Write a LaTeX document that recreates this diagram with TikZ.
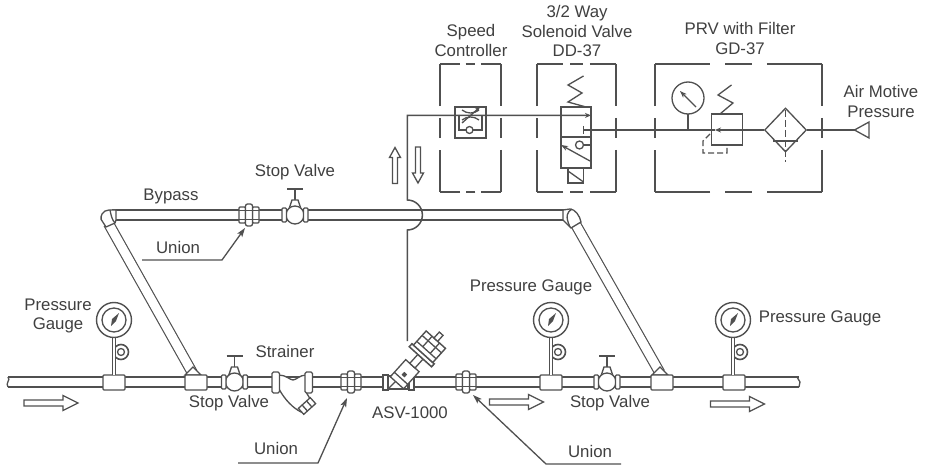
\documentclass[tikz,border=0pt]{standalone}
\usepackage{fontspec}
\setmainfont{Liberation Sans}
\usetikzlibrary{arrows.meta,calc,shapes.geometric}
\definecolor{linecol}{HTML}{505050}
\definecolor{textcol}{HTML}{404040}
% one side of a dashed group box
\newcommand{\groupside}[2]{
	\draw ($(#1)!0!(#2)$) -- ($(#1)!0.33!(#2)$);
	\draw ($(#1)!0.42!(#2)$) -- ($(#1)!0.58!(#2)$);
	\draw ($(#1)!0.67!(#2)$) -- (#2);
}
\newcommand{\groupbox}[4]{
	\coordinate (nw) at (#1, #2);
	\coordinate (ne) at (#3, #2);
	\coordinate (se) at (#3, #4);
	\coordinate (sw) at (#1, #4);
	\groupside{nw}{ne}
	\groupside{ne}{se}
	\groupside{se}{sw}
	\groupside{sw}{nw}
}
\tikzset{
	pipeline/.style={line width=1.15pt, draw=linecol, double=white, double distance=8.8pt},
	teebox/.style={draw, fill=white, rounded corners=1pt, minimum width=22pt, minimum height=15pt, inner sep=0pt},
	label/.style={text=textcol, font=\fontsize{16.8}{19.5}\selectfont, align=center, inner sep=0pt},
	leader/.style={-{Stealth[length=9pt, width=6pt, inset=2pt]}},
	pics/flowlong/.style={code={
		\draw[fill=white] (-27, -3) -- (12, -3) -- (12, -7.5) -- (27, 0) -- (12, 7.5) -- (12, 3) -- (-27, 3) -- cycle;
	}},
	pics/flowshort/.style={code={
		\draw[fill=white] (-18, -2.5) -- (8, -2.5) -- (8, -5.5) -- (18, 0) -- (8, 5.5) -- (8, 2.5) -- (-18, 2.5) -- cycle;
	}},
	pics/stopvalve/.style={code={
		\draw[line width=2pt] (-8, -26) -- (8, -26);
		\draw (0, -26) -- (0, -15);
		\draw[fill=white] (-3, -15) -- (3, -15) -- (6, -6) -- (-6, -6) -- cycle;
		\draw[fill=white] (0, 0) circle (9pt);
		\draw[fill=white, rounded corners=1pt] (-13, -7) rectangle ++ (4.5, 14);
		\draw[fill=white, rounded corners=1pt] (8.5, -7) rectangle ++ (4.5, 14);
	}},
	pics/unionsym/.style={code={
		\draw[fill=white, rounded corners=1pt] (-10, -8) rectangle ++ (6.5, 16);
		\draw[fill=white, rounded corners=1pt] (3.5, -8) rectangle ++ (6.5, 16);
		\draw[fill=white, rounded corners=2pt] (-3.5, -11) rectangle ++ (7, 22);
		\draw (-10, -4.5) -- (10, -4.5);
		\draw (-10, 4.5) -- (10, 4.5);
	}},
	pics/gaugesym/.style={code={
		\draw[line width=1.6pt] (7, 32) circle (7.5pt);
		\draw (7, 32) circle (3.5pt);
		\draw[line width=1.1pt, double=white, double distance=2.6pt] (0, 16) -- (0, 55);
		\draw[line width=1.4pt, fill=white] (0, 0) circle (17.5pt);
		\draw (0, 0) circle (12pt);
		\fill[linecol] (5, -7) -- (2, 1) -- (-3, 6) -- (-2, -1) -- cycle;
	}}
}
\begin{document}
\begin{tikzpicture}[x=1pt, y=-1pt, draw=linecol, line width=1.3pt]
	\path[use as bounding box, fill=white] (0, 0) rectangle (927, 468);

	% Main pipe
	\coordinate (pipein) at (8, 382);
	\coordinate (pipeout) at (799, 382);
	\draw[pipeline] (pipein) -- (pipeout);
	\draw (8, 377) .. controls (11, 380) and (5, 383) .. (8, 387);
	\draw (797, 377) -- (800, 382) -- (799, 387);

	% Bypass
	\coordinate (bypassleft) at (112, 215);
	\coordinate (bypassright) at (566, 215);
	\coordinate (diagleft) at (108.5, 223.5);
	\coordinate (diagright) at (576, 225);
	\coordinate (footleft) at (192.5, 373);
	\coordinate (footright) at (660, 373);
	\draw[pipeline] (bypassleft) -- (bypassright);
	\draw[pipeline] (diagleft) -- (footleft);
	\draw[pipeline] (diagright) -- (footright);
	% Elbows
	\draw[fill=white] (116, 210) -- (109, 210) arc [start angle=90, end angle=190, radius=8pt] -- (106, 227) -- (115, 223) -- (116, 220) -- cycle;
	\draw (110, 210) .. controls (111, 215) and (112, 220) .. (115, 223);
	\draw[fill=white] (563, 210) -- (570, 209) .. controls (575, 209) and (580, 216) .. (581, 222) -- (571, 228) -- (563, 220) -- cycle;
	\draw (572, 209) .. controls (567, 212) and (565, 216) .. (570, 227);

	% Tees
	\draw[fill=white] (185, 375) -- (193, 367) -- (201, 375) -- cycle;
	\draw[fill=white] (652, 375) -- (660, 367) -- (668, 375) -- cycle;
	\node[teebox] (teeone) at (114, 382.5) {};
	\node[teebox] (teetwo) at (196, 382.5) {};
	\node[teebox] (teethree) at (551, 382.5) {};
	\node[teebox] (teefour) at (662, 382.5) {};
	\node[teebox] (teefive) at (734, 382.5) {};

	% Gauges
	\pic at (114, 320) {gaugesym};
	\pic at (551, 320) {gaugesym};
	\pic at (733, 320) {gaugesym};

	% Valves and unions
	\pic at (295, 215) {stopvalve};
	\pic at (234.5, 382) {stopvalve};
	\pic at (607, 382) {stopvalve};
	\pic at (249, 215) {unionsym};
	\pic at (351, 382) {unionsym};
	\pic at (466, 382) {unionsym};

	% Strainer
	\begin{scope}
		\draw[fill=white] (279, 375) .. controls (286, 375) and (290, 380) .. (293, 380) .. controls (296, 380) and (300, 375) .. (306, 375) -- (306, 392) -- (312, 402) -- (301, 412) .. controls (293, 408) and (285, 400) .. (279, 389) -- cycle;
		\draw[fill=white, rounded corners=1.5pt] (272, 372) rectangle ++ (7.5, 21);
		\draw[fill=white, rounded corners=1.5pt] (305, 372) rectangle ++ (7.5, 21);
		\begin{scope}[shift={(307, 406)}, rotate=42]
			\draw[fill=white] (-8, -4) rectangle (8, 4);
			\draw (-3, -4) -- (-3, 4);
			\draw (3, -4) -- (3, 4);
		\end{scope}
	\end{scope}

	% ASV
	\begin{scope}
		\draw[fill=white] (388, 376) rectangle (408, 389);
		\draw[fill=white, line width=1.5pt] (383, 375) rectangle ++ (5, 15);
		\draw[fill=white, line width=1.5pt] (409, 375) rectangle ++ (5, 15);
		\draw (388, 389) -- (397, 380);
		\begin{scope}[shift={(395, 385)}, rotate=48]
			\draw[fill=white] (3, -9) rectangle (26, 9);
			\draw (9, -9) -- (9, 9);
			\fill[linecol] (12, -2) rectangle ++ (4, 4);
			\draw[fill=white] (26, -3.5) rectangle (38, 3.5);
			\draw[fill=white, line width=1.5pt] (38, -15) rectangle (42, 15);
			\draw[fill=white, line width=1.4pt] (42, -13) rectangle (61, 13);
			\draw (47, -13) -- (47, 13);
			\draw (47, -5) -- (61, -5);
			\draw (47, 5) -- (61, 5);
			\draw (55, -13) -- (55, 13);
			\draw[fill=white] (61, -2.5) rectangle (69, 2.5);
		\end{scope}
	\end{scope}

	% Control line
	\coordinate (asvtop) at (407.4, 341);
	\coordinate (hopbottom) at (407.4, 230);
	\coordinate (ctrlcorner) at (407.4, 115.4);
	\coordinate (solinlet) at (591, 115.4);
	\draw[line width=1.5pt, -{Stealth[length=6pt, width=5pt]}] (asvtop) -- (hopbottom) arc [start angle=-90, end angle=90, radius=15pt] -- (ctrlcorner) -- (solinlet);
	\pic[rotate=90] at (395, 165.5) {flowshort};
	\pic[rotate=-90] at (418, 165) {flowshort};
	\pic at (51, 403) {flowlong};
	\pic at (516.5, 402) {flowlong};
	\pic at (737.5, 404) {flowlong};

	% Speed controller
	\begin{scope}
		\groupbox{440}{64}{501}{192}
		\node[draw, minimum size=31pt, inner sep=0pt] (speedbox) at (470.5, 122.5) {};
		\draw (459, 115) -- (459, 130) -- (482, 130) -- (482, 115);
		\draw[fill=white] (469.5, 130) circle (3.5pt);
		\draw (462, 110) .. controls (467, 114) and (474, 114) .. (479, 110);
		\draw (462, 120) .. controls (467, 116) and (474, 116) .. (479, 120);
		\draw[-{Stealth[length=5pt, width=4pt]}] (462, 123) -- (480, 107);
	\end{scope}

	% Solenoid valve
	\begin{scope}
		\groupbox{537}{64}{616}{192}
		\draw (561, 107) rectangle (591, 168);
		\draw (561, 137) -- (591, 137);
		\draw (583.5, 76) -- (568, 85) -- (582, 93) -- (568, 102) -- (586, 107);
		\draw (568, 168) rectangle (583.5, 183);
		\draw (568, 171) -- (583.5, 182);
		\draw (583.5, 126) -- (583.5, 134);
		\draw[{Stealth[length=7pt, width=5pt]}-] (561, 145) -- (590, 161);
		\draw (579.5, 145) circle (4pt);
		\draw (583.5, 145) -- (591, 145);
	\end{scope}

	% PRV with filter
	\begin{scope}
		\groupbox{655}{64}{822}{192}
		\draw (688, 98) circle (16pt);
		\draw[-{Stealth[length=7pt, width=5pt]}] (696, 107) -- (680, 91);
		\coordinate (dialfoot) at (688, 114);
		\coordinate (dialtap) at (688, 130);
		\draw (dialfoot) -- (dialtap);
		\node[draw, minimum size=31pt, inner sep=0pt] (prvbox) at (727, 129.5) {};
		\draw (731.5, 85) -- (718, 95) -- (733, 103) -- (720, 114);
		\draw[dash pattern=on 6pt off 3pt] (710, 134) -- (703, 141) -- (703, 153) -- (727, 153) -- (727, 145);
		\node[draw, diamond, minimum width=42pt, minimum height=44pt, inner sep=0pt] (filterbox) at (785.5, 130) {};
		\draw (773, 141) -- (798, 141);
		\draw[dash pattern=on 7pt off 3pt] (785.5, 110) -- (785.5, 162);
	\end{scope}

	% Air line
	\coordinate (airtip) at (854.5, 130);
	\coordinate (solstop) at (583.5, 130);
	\draw (airtip) -- (filterbox.east);
	\draw[-{Stealth[length=6pt, width=5pt]}] (filterbox.west) -- (715, 130);
	\draw (715, 130) -- (solstop);
	\draw[line width=1.3pt] (airtip) -- (869, 122) -- (869, 138) -- cycle;

	% Union leaders
	\coordinate (unionatop) at (142, 260);
	\coordinate (unionakink) at (222, 260);
	\coordinate (unionatip) at (245, 228);
	\draw[leader] (unionatop) -- (unionakink) -- (unionatip);
	\coordinate (unionbstart) at (238, 463);
	\coordinate (unionbkink) at (318, 463);
	\coordinate (unionbtip) at (347, 398);
	\draw[leader] (unionbstart) -- (unionbkink) -- (unionbtip);
	\coordinate (unioncstart) at (621, 464);
	\coordinate (unionckink) at (546, 464);
	\coordinate (unionctip) at (473, 395);
	\draw[leader] (unioncstart) -- (unionckink) -- (unionctip);

	% Labels
	\node[label] (lblspeed) at (471, 40.5) {Speed\\Controller};
	\node[label] (lblsolenoid) at (577, 31) {3/2 Way\\Solenoid Valve\\DD-37};
	\node[label] (lblprv) at (740, 38.5) {PRV with Filter\\GD-37};
	\node[label] (lblair) at (881, 101.5) {Air Motive\\Pressure};
	\node[label] (lblstopa) at (295, 172) {Stop Valve};
	\node[label] (lblbypass) at (171, 196) {Bypass};
	\node[label] (lblunionb) at (178, 247) {Union};
	\node[label] (lblgaugea) at (58, 316) {Pressure\\Gauge};
	\node[label] (lblstrainer) at (285, 351) {Strainer};
	\node[label] (lblstopb) at (229, 403) {Stop Valve};
	\node[label] (lblunionc) at (276, 448) {Union};
	\node[label] (lblasv) at (410, 413) {ASV-1000};
	\node[label] (lblgaugeb) at (531, 287) {Pressure Gauge};
	\node[label] (lblstopc) at (610, 403) {Stop Valve};
	\node[label] (lbluniond) at (590, 451) {Union};
	\node[label] (lblgaugec) at (820, 318) {Pressure Gauge};
\end{tikzpicture}
\end{document}
